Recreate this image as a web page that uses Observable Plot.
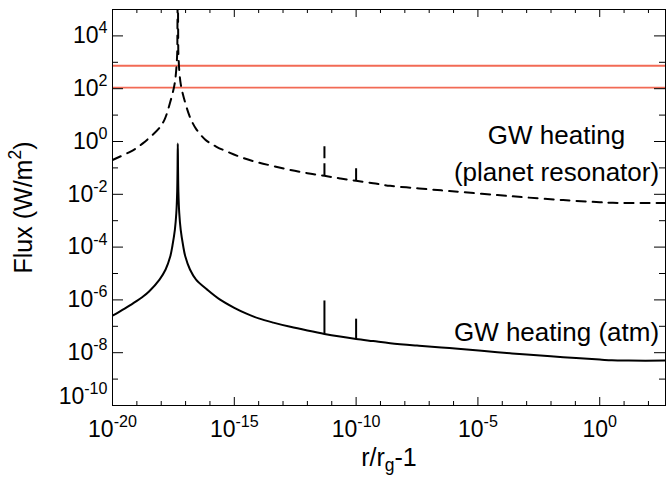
<!DOCTYPE html>
<html>
<head>
<meta charset="utf-8">
<script src="https://cdn.jsdelivr.net/npm/d3@7"></script>
<script src="https://cdn.jsdelivr.net/npm/@observablehq/plot@0.6"></script>
<style>
  html, body { margin: 0; padding: 0; background: #fff; }
  svg { display: block; }
</style>
</head>
<body>
<div id="chart"></div>
<script>
// ---- data (log10 values) ----
const atmLogX = [-20.0, -19.5, -19.0, -18.77, -18.5, -18.07, -17.82, -17.63, -17.54, -17.44, -17.38, -17.345, -17.33, -17.32,
  -17.31, -17.295, -17.26, -17.20, -17.10, -17.01, -16.82, -16.57, -16.1, -15.6, -15.0, -14.5, -14.0, -13.4, -12.7, -12.0,
  -11.3, -10.66, -10.0, -9.3, -8.6, -7.5, -6.5, -5.7, -4.2, -3.0, -1.5, 0.0, 0.5, 1.2, 2.7];
const atmLogY = [-6.60, -6.33, -6.04, -5.89, -5.68, -5.23, -4.85, -4.36, -3.95, -3.35, -2.71, -1.9, -1.0, -0.08,
  -1.0, -1.9, -2.71, -3.35, -3.95, -4.36, -4.85, -5.23, -5.62, -5.98, -6.30, -6.52, -6.70, -6.86, -7.02, -7.16,
  -7.29, -7.39, -7.48, -7.56, -7.64, -7.73, -7.80, -7.86, -7.98, -8.07, -8.17, -8.26, -8.29, -8.30, -8.30];

const resLogX = [-20.0, -19.3, -19.0, -18.77, -18.5, -18.07, -17.85, -17.65, -17.45, -17.35, -17.335, -17.32,
  -17.305, -17.29, -17.20, -17.0, -16.8, -16.57, -16.2, -15.73, -15.2, -14.65, -14.0, -13.4, -12.7, -12.0,
  -11.3, -10.66, -10.0, -9.3, -8.6, -7.5, -6.5, -5.7, -4.2, -3.0, -1.5, 0.0, 0.5, 1.2, 2.7];
const resLogY = [-0.70, -0.40, -0.24, -0.08, 0.13, 0.52, 0.86, 1.43, 2.18, 3.2, 4.2, 7.0,
  4.2, 3.2, 2.18, 1.42, 0.88, 0.48, 0.08, -0.20, -0.42, -0.62, -0.80, -0.93, -1.08, -1.20,
  -1.30, -1.40, -1.49, -1.58, -1.68, -1.77, -1.85, -1.91, -2.03, -2.12, -2.22, -2.30, -2.32, -2.33, -2.33];

// narrow spikes on both curves
const spikeLogX = [-11.3, -10.0];
const atmSpikeBase = [-7.29, -7.48];
const atmSpikeTop = [-6.04, -6.73];
const resSpikeBase = [-1.30, -1.49];
const resSpikeTop = [-0.15, -0.84];

const limitLevels = [740, 110];

const xMajor = [1e-20, 1e-15, 1e-10, 1e-5, 1e0];
const xMinor = [1e-19, 1e-18, 1e-17, 1e-16, 1e-14, 1e-13, 1e-12, 1e-11, 1e-9, 1e-8, 1e-7, 1e-6,
  1e-4, 1e-3, 1e-2, 1e-1, 1e1, 1e2];
const xTickLabels = ["10^{-20}", "10^{-15}", "10^{-10}", "10^{-5}", "10^{0}"];

const yMajor = [1e-10, 1e-8, 1e-6, 1e-4, 1e-2, 1e0, 1e2, 1e4];
const yMinor = [1e-9, 1e-7, 1e-5, 1e-3, 1e-1, 1e1, 1e3];
const yTickLabels = ["10^{-10}", "10^{-8}", "10^{-6}", "10^{-4}", "10^{-2}", "10^{0}", "10^{2}", "10^{4}"];

const xTitle = "r/r_{g}-1";
const yTitle = "Flux (W/m^{2})";
const resLabel = "GW heating\n(planet resonator)";
const atmLabel = "GW heating (atm)";

// ---- build ----
const atm = atmLogX.map((lx, i) => ({x: 10 ** lx, y: 10 ** atmLogY[i]}));
const res = resLogX.map((lx, i) => ({x: 10 ** lx, y: 10 ** resLogY[i]}));
const spikes = spikeLogX.map((lx, i) => ({
  x: 10 ** lx,
  a1: 10 ** atmSpikeBase[i], a2: 10 ** atmSpikeTop[i],
  r1: 10 ** resSpikeBase[i], r2: 10 ** resSpikeTop[i]
}));

const W = 666, H = 479;
const mL = 112, mR = 1, mT = 9, mB = 74;
const fw = W - mL - mR, fh = H - mT - mB;
const font = "'Liberation Sans', Arial, Helvetica, sans-serif";
const dash = "9,7";

const chart = Plot.plot({
  width: W, height: H,
  marginLeft: mL, marginRight: mR, marginTop: mT, marginBottom: mB,
  style: {fontFamily: font, fontSize: "23px", color: "#000", background: "#fff", overflow: "visible"},
  x: {type: "log", domain: [1e-20, 10 ** 2.7]},
  y: {type: "log", domain: [1e-10, 1e5]},
  marks: [
    Plot.ruleY(limitLevels, {stroke: "#f26a55", strokeWidth: 1.8}),
    Plot.line(res, {x: "x", y: "y", stroke: "#000", strokeWidth: 2, strokeDasharray: dash, curve: "catmull-rom", clip: true}),
    Plot.ruleX(spikes, {x: "x", y1: "r1", y2: "r2", stroke: "#000", strokeWidth: 2, strokeDasharray: "12,5"}),
    Plot.line(atm, {x: "x", y: "y", stroke: "#000", strokeWidth: 2, curve: "catmull-rom", clip: true}),
    Plot.ruleX(spikes, {x: "x", y1: "a1", y2: "a2", stroke: "#000", strokeWidth: 2}),
    // inward ticks
    Plot.ruleX(xMajor, {insetTop: fh - 8, stroke: "#000"}),
    Plot.ruleX(xMajor, {insetBottom: fh - 8, stroke: "#000"}),
    Plot.ruleX(xMinor, {insetTop: fh - 4, stroke: "#000"}),
    Plot.ruleX(xMinor, {insetBottom: fh - 4, stroke: "#000"}),
    Plot.ruleY(yMajor, {insetRight: fw - 11, stroke: "#000"}),
    Plot.ruleY(yMajor, {insetLeft: fw - 11, stroke: "#000"}),
    Plot.ruleY(yMinor, {insetRight: fw - 6, stroke: "#000"}),
    Plot.ruleY(yMinor, {insetLeft: fw - 6, stroke: "#000"}),
    Plot.frame({stroke: "#000", strokeWidth: 1}),
    Plot.axisX({ticks: xMajor, tickSize: 0, tickPadding: 15, label: null, fontSize: 23,
      tickFormat: d => xTickLabels[xMajor.indexOf(d)]}),
    Plot.axisY({ticks: yMajor.slice(1), tickSize: 0, tickPadding: 5, label: null, fontSize: 23,
      tickFormat: d => yTickLabels[yMajor.indexOf(d)]}),
    Plot.axisY({ticks: yMajor.slice(0, 1), tickSize: 0, tickPadding: 5, label: null, fontSize: 23, dy: -9,
      tickFormat: d => yTickLabels[yMajor.indexOf(d)]}),
    Plot.text([yTitle], {frameAnchor: "left", dx: -89, rotate: -90, fontSize: 25, textAnchor: "middle"}),
    Plot.text([xTitle], {frameAnchor: "bottom", dy: 60, fontSize: 25, textAnchor: "middle"}),
    Plot.text([resLabel], {frameAnchor: "top-right", dx: -109, dy: 171, fontSize: 26, textAnchor: "middle",
      lineAnchor: "bottom", lineHeight: 1.42}),
    Plot.text([atmLabel], {frameAnchor: "top-right", dx: -109, dy: 331, fontSize: 26, textAnchor: "middle",
      lineAnchor: "bottom"})
  ]
});

document.getElementById("chart").appendChild(chart);

// superscript / subscript markup -> tspans
const NS = "http://www.w3.org/2000/svg";
chart.querySelectorAll("text").forEach(el => {
  const s = el.textContent;
  if (!/[\^_]\{/.test(s) || el.querySelector("tspan")) return;
  const fs = parseFloat(getComputedStyle(el).fontSize) || 23;
  const parts = s.split(/(\^\{[^}]*\}|_\{[^}]*\})/).filter(p => p.length);
  el.textContent = "";
  let shift = 0;
  for (const p of parts) {
    let txt = p, target = 0, size = fs;
    if (p.startsWith("^{")) { txt = p.slice(2, -1); target = -0.43 * fs; size = 0.7 * fs; }
    else if (p.startsWith("_{")) { txt = p.slice(2, -1); target = 0.22 * fs; size = 0.7 * fs; }
    const t = document.createElementNS(NS, "tspan");
    t.setAttribute("font-size", size);
    if (target - shift !== 0) t.setAttribute("dy", target - shift);
    t.textContent = txt;
    el.appendChild(t);
    shift = target;
  }
});
</script>
</body>
</html>
